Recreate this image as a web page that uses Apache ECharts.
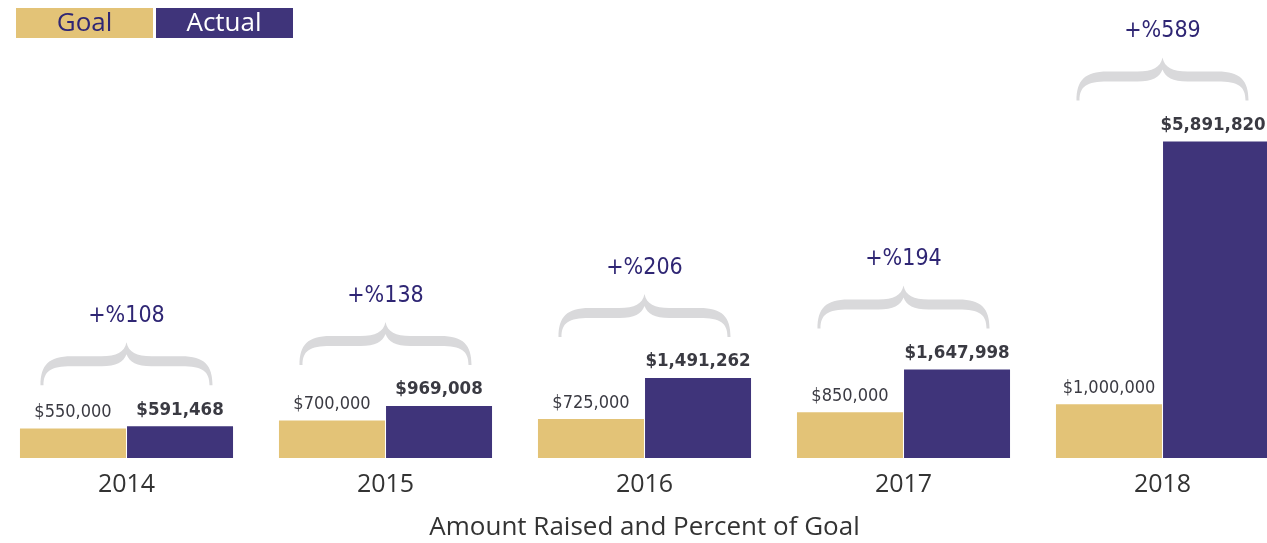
<!DOCTYPE html>
<html>
<head>
<meta charset="utf-8">
<script src="https://cdn.jsdelivr.net/npm/echarts@6/dist/echarts.min.js"></script>
<style>html,body{margin:0;padding:0;background:#fff}#c{width:1267px;height:543px}</style>
</head>
<body>
<div id="c"></div>
<script>
var years = ['2014', '2015', '2016', '2017', '2018'];
var goal = [550000, 700000, 725000, 850000, 1000000];
var actual = [591468, 969008, 1491262, 1647998, 5891820];
var pctLabels = ['+%108', '+%138', '+%206', '+%194', '+%589'];

var GOLD = '#E3C377';
var PURPLE = '#3F347A';
var TEXT = '#3a3a42';
var PCT = '#2F2674';
var COND = "'Liberation Sans Narrow', 'DejaVu Sans Condensed', 'Arial Narrow', sans-serif";
var SANS = "'Open Sans', 'Noto Sans', sans-serif";

function money(v) {
  return '$' + String(v).replace(/\B(?=(\d{3})+(?!\d))/g, ',');
}

var braceData = years.map(function (y, i) {
  return [i, Math.max(goal[i], actual[i]), pctLabels[i]];
});

// keep the last label inside the canvas edge
var actualItems = actual.map(function (v, i) {
  return i === actual.length - 1 ? { value: v, label: { offset: [-3, 0] } } : v;
});

var bracePath = 'M -86 0 C -86 -20 -78 -29 -55 -29 L -25 -29 C -10 -29 -2 -33 0 -43 ' +
  'C 2 -33 10 -29 25 -29 L 55 -29 C 78 -29 86 -20 86 0 L 83 0 ' +
  'C 83 -14 76 -19 55 -19 L 25 -19 C 10 -19 3 -23 0 -31 ' +
  'C -3 -23 -10 -19 -25 -19 L -55 -19 C -76 -19 -83 -14 -83 0 Z';

var chart = echarts.init(document.getElementById('c'), null, { renderer: 'canvas' });
chart.setOption({
  animation: false,
  grid: { left: -3, width: 1295, top: 82, bottom: 85, containLabel: false, outerBoundsMode: 'none' },
  xAxis: {
    type: 'category',
    data: years,
    axisLine: { show: false },
    axisTick: { show: false },
    axisLabel: { fontSize: 25, fontFamily: SANS, color: '#333', margin: 14 },
    name: 'Amount Raised and Percent of Goal',
    nameLocation: 'middle',
    nameGap: 57,
    nameTextStyle: { fontSize: 26, fontFamily: SANS, color: '#333' }
  },
  yAxis: {
    type: 'value', min: 0, max: 7000000, show: false,
    splitLine: { show: false }
  },
  series: [
    {
      name: 'Goal', type: 'bar', data: goal, barWidth: 106, barGap: '1%',
      itemStyle: { color: GOLD },
      label: {
        show: true, position: 'top', distance: 7,
        formatter: function (p) { return money(p.value); },
        fontSize: 18, fontFamily: COND, color: TEXT
      }
    },
    {
      name: 'Actual', type: 'bar', data: actualItems, barWidth: 106, barGap: '1%',
      itemStyle: { color: PURPLE },
      label: {
        show: true, position: 'top', distance: 7,
        formatter: function (p) { return money(p.value); },
        fontSize: 18.5, fontWeight: 'bold', fontFamily: COND, color: TEXT
      }
    },
    {
      type: 'custom',
      data: braceData,
      encode: { x: 0, y: 1 },
      clip: false,
      z: 5,
      renderItem: function (params, api) {
        var pt = api.coord([api.value(0), api.value(1)]);
        var tipY = pt[1] - 41;
        return {
          type: 'group',
          x: pt[0], y: tipY,
          children: [
            {
              type: 'path',
              shape: { pathData: bracePath, x: -86, y: -43, width: 172, height: 43, layout: 'cover' },
              style: { fill: '#D9D9DB' }
            },
            {
              type: 'text',
              x: 0, y: -69,
              style: {
                text: braceData[params.dataIndex][2],
                align: 'center', verticalAlign: 'middle',
                font: '23px ' + COND,
                fill: PCT
              }
            }
          ]
        };
      }
    }
  ],
  graphic: [
    { type: 'rect', shape: { x: 16, y: 8, width: 137, height: 30 }, style: { fill: GOLD } },
    { type: 'rect', shape: { x: 156, y: 8, width: 137, height: 30 }, style: { fill: PURPLE } },
    { type: 'text', x: 84.5, y: 23.5, style: { text: 'Goal', align: 'center', verticalAlign: 'middle', font: '26px ' + SANS, fill: PCT } },
    { type: 'text', x: 224, y: 23.5, style: { text: 'Actual', align: 'center', verticalAlign: 'middle', font: '26px ' + SANS, fill: '#ffffff' } }
  ]
});
</script>
</body>
</html>
